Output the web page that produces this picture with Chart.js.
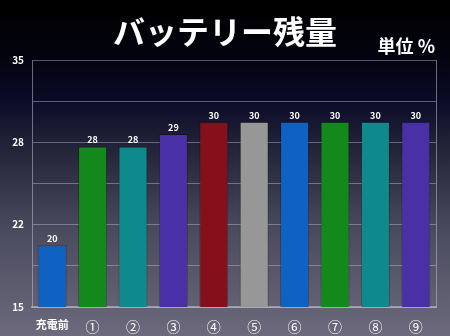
<!DOCTYPE html>
<html>
<head>
<meta charset="utf-8">
<script src="https://cdn.jsdelivr.net/npm/chart.js@4"></script>
<style>
  html, body { margin: 0; padding: 0; background: #000; }
  #wrap { width: 450px; height: 336px; position: relative; }
</style>
</head>
<body>
<div id="wrap"><canvas id="batteryChart" width="450" height="336"></canvas></div>
<script>
const titleText = 'バッテリー残量';
const unitText = '単位 %';
const categories = ['充電前', '①', '②', '③', '④', '⑤', '⑥', '⑦', '⑧', '⑨'];
const batteryValues = [20, 28, 28, 29, 30, 30, 30, 30, 30, 30];
const barColors = ['#1062c2', '#12891a', '#0f8a8c', '#4a30a6', '#85101b', '#979797', '#1062c2', '#12891a', '#0f8a8c', '#4a30a6'];
const yTickLabels = ['15', '', '22', '', '28', '', '35'];

const FONT = '"Noto Sans CJK JP", "Noto Sans", sans-serif';

// background + title, drawn on the canvas
const decorPlugin = {
    id: 'decor',
    beforeDraw(chart) {
        const ctx = chart.ctx;
        const g = ctx.createLinearGradient(0, 0, 0, chart.height);
        g.addColorStop(0, '#000000');
        g.addColorStop(0.17, '#030310');
        g.addColorStop(0.3, '#0b0b28');
        g.addColorStop(0.45, '#25253a');
        g.addColorStop(0.68, '#4a4a5e');
        g.addColorStop(1, '#6c6a7c');
        ctx.save();
        ctx.fillStyle = g;
        ctx.fillRect(0, 0, chart.width, chart.height);
        ctx.restore();
    },
    afterDraw(chart) {
        const ctx = chart.ctx;
        const area = chart.chartArea;
        ctx.save();
        // right frame line
        ctx.strokeStyle = 'rgba(190,190,205,0.55)';
        ctx.lineWidth = 1;
        ctx.beginPath();
        ctx.moveTo(Math.round(area.right) + 0.5, area.top);
        ctx.lineTo(Math.round(area.right) + 0.5, area.bottom);
        ctx.stroke();

        ctx.fillStyle = '#ffffff';
        ctx.textBaseline = 'middle';
        ctx.textAlign = 'center';
        ctx.font = 'bold 32px ' + FONT;
        ctx.fillText(titleText, 225, 32);
        ctx.textAlign = 'right';
        ctx.font = 'bold 18px ' + FONT;
        ctx.fillText(unitText, 435, 46);

        // value labels
        ctx.textAlign = 'center';
        ctx.textBaseline = 'bottom';
        ctx.font = 'bold 9px ' + FONT;
        const meta = chart.getDatasetMeta(0);
        meta.data.forEach((bar, i) => {
            ctx.fillText(String(batteryValues[i]), bar.x, bar.y - 2);
        });
        ctx.restore();
    }
};

const ctx = document.getElementById('batteryChart').getContext('2d');
new Chart(ctx, {
    type: 'bar',
    data: {
        labels: categories,
        datasets: [{
            data: batteryValues,
            backgroundColor: barColors,
            borderColor: 'rgba(0,0,0,0.25)',
            borderWidth: 1,
            barPercentage: 0.72,
            categoryPercentage: 1.0
        }]
    },
    options: {
        responsive: false,
        animation: false,
        layout: { padding: { top: 60, right: 14, left: 0, bottom: 0 } },
        plugins: {
            legend: { display: false },
            tooltip: { enabled: false }
        },
        scales: {
            x: {
                grid: { display: false },
                border: { color: 'rgba(190,190,205,0.6)', width: 2 },
                ticks: {
                    color: '#ffffff',
                    font: (c) => c.index === 0
                        ? { family: FONT, size: 11, weight: 'bold' }
                        : { family: FONT, size: 14, weight: 'normal' },
                    padding: 3,
                    maxRotation: 0
                },
                afterFit(scale) { scale.height = 29; }
            },
            y: {
                min: 15,
                max: 35,
                ticks: {
                    stepSize: 20 / 6,
                    color: '#ffffff',
                    font: { family: FONT, size: 10, weight: 'bold' },
                    padding: 8,
                    callback: (v, i) => yTickLabels[i]
                },
                grid: {
                    color: 'rgba(190,190,205,0.45)',
                    drawTicks: false
                },
                border: { color: 'rgba(190,190,205,0.55)' },
                afterFit(scale) { scale.width = 32; }
            }
        }
    },
    plugins: [decorPlugin]
});
</script>
</body>
</html>
